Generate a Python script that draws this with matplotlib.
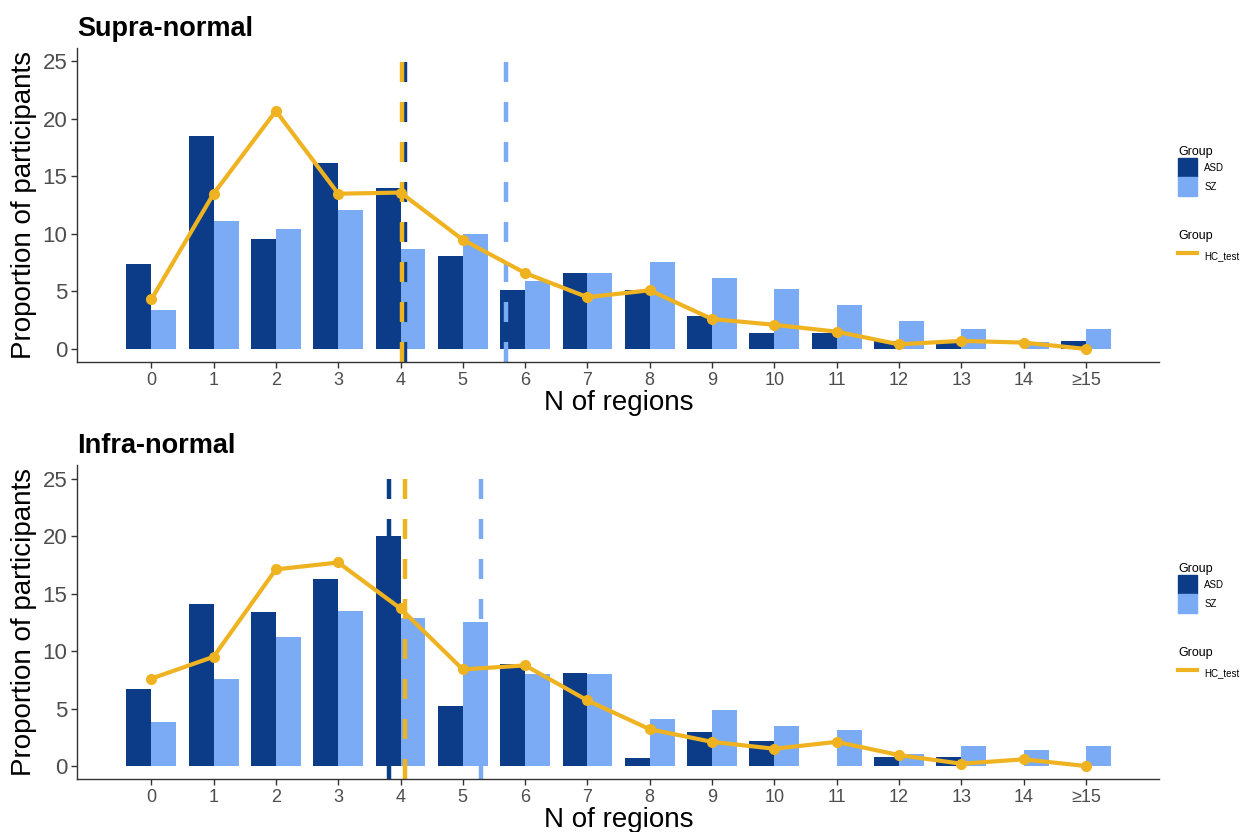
import numpy as np
import matplotlib
matplotlib.use('Agg')
import matplotlib.pyplot as plt
from matplotlib.patches import Patch
from matplotlib.lines import Line2D

plt.rcParams['font.family'] = ['Liberation Sans', 'DejaVu Sans']

# категории по оси X
regions = ['0', '1', '2', '3', '4', '5', '6', '7', '8', '9', '10', '11', '12', '13', '14', '≥15']

# Supra-normal
supra_asd = [7.4, 18.5, 9.6, 16.2, 14.0, 8.1, 5.1, 6.6, 5.1, 2.9, 1.4, 1.4, 0.7, 0.7, 0.0, 0.7]
supra_sz = [3.4, 11.1, 10.4, 12.1, 8.7, 10.0, 5.9, 6.6, 7.6, 6.2, 5.2, 3.8, 2.4, 1.7, 0.6, 1.7]
supra_hc = [4.3, 13.5, 20.7, 13.5, 13.6, 9.5, 6.6, 4.5, 5.1, 2.6, 2.1, 1.5, 0.4, 0.7, 0.55, 0.0]
supra_means = {'ASD': 4.07, 'SZ': 5.69, 'HC_test': 4.02}

# Infra-normal
infra_asd = [6.7, 14.1, 13.4, 16.3, 20.0, 5.2, 8.9, 8.1, 0.7, 3.0, 2.2, 0.0, 0.75, 0.75, 0.0, 0.0]
infra_sz = [3.8, 7.6, 11.2, 13.5, 12.9, 12.5, 8.0, 8.0, 4.1, 4.9, 3.5, 3.1, 1.05, 1.7, 1.4, 1.7]
infra_hc = [7.6, 9.5, 17.1, 17.7, 13.7, 8.4, 8.75, 5.7, 3.2, 2.1, 1.5, 2.1, 0.95, 0.2, 0.58, 0.0]
infra_means = {'ASD': 3.81, 'SZ': 5.29, 'HC_test': 4.08}

colors = {'ASD': '#0c3c87', 'SZ': '#7aabf4', 'HC_test': '#efb321'}

fig = plt.figure(figsize=(12.44, 8.32), dpi=100)

panels = [
    ('Supra-normal', supra_asd, supra_sz, supra_hc, supra_means, [0.062, 0.565, 0.870, 0.377]),
    ('Infra-normal', infra_asd, infra_sz, infra_hc, infra_means, [0.062, 0.0637, 0.870, 0.377]),
]

x = np.arange(len(regions))

for title, asd, sz, hc, means, rect in panels:
    ax = fig.add_axes(rect)
    ax.bar(x - 0.2, asd, width=0.4, color=colors['ASD'], zorder=1)
    ax.bar(x + 0.2, sz, width=0.4, color=colors['SZ'], zorder=1)

    # средние значения - пунктирные линии
    for g in ['ASD', 'SZ', 'HC_test']:
        ax.axvline(means[g], color=colors[g], linewidth=3.2,
                   linestyle=(0, (4.5, 4.5)), zorder=2)

    ax.plot(x, hc, color=colors['HC_test'], linewidth=3, marker='o',
            markersize=7, zorder=3)

    ax.set_xlim(-1.19, 16.18)
    ax.set_ylim(-1.13, 26.15)
    ax.set_xticks(x)
    ax.set_xticklabels(regions, fontsize=13, color='#4d4d4d')
    ax.set_yticks([0, 5, 10, 15, 20, 25])
    ax.set_yticklabels(['0', '5', '10', '15', '20', '25'], fontsize=16, color='#4d4d4d')
    ax.tick_params(axis='both', length=4, width=1, color='#333333', pad=3)
    for s in ['top', 'right']:
        ax.spines[s].set_visible(False)
    for s in ['left', 'bottom']:
        ax.spines[s].set_color('#333333')
        ax.spines[s].set_linewidth(1)
    ax.set_xlabel('N of regions', fontsize=20, labelpad=1)
    ax.set_ylabel('Proportion of participants', fontsize=20, labelpad=4)
    ax.set_title(title, fontsize=19.5, fontweight='bold', loc='left', pad=9)

    # легенды
    bar_handles = [Patch(color=colors['ASD']), Patch(color=colors['SZ'])]
    leg1 = ax.legend(bar_handles, ['ASD', 'SZ'], title='Group', loc='upper left',
                     bbox_to_anchor=(1.009, 0.715), frameon=False, fontsize=7,
                     title_fontsize=9, handlelength=2.0, handleheight=2.6,
                     handletextpad=0.7, labelspacing=0.0, alignment='left')
    ax.add_artist(leg1)
    line_handle = [Line2D([0], [0], color=colors['HC_test'], linewidth=3)]
    ax.legend(line_handle, ['HC_test'], title='Group', loc='upper left',
              bbox_to_anchor=(1.009, 0.45), frameon=False, fontsize=7,
              title_fontsize=9, handlelength=2.0, handleheight=2.6,
              handletextpad=0.7, alignment='left')

fig.savefig('out.png', dpi=100)
